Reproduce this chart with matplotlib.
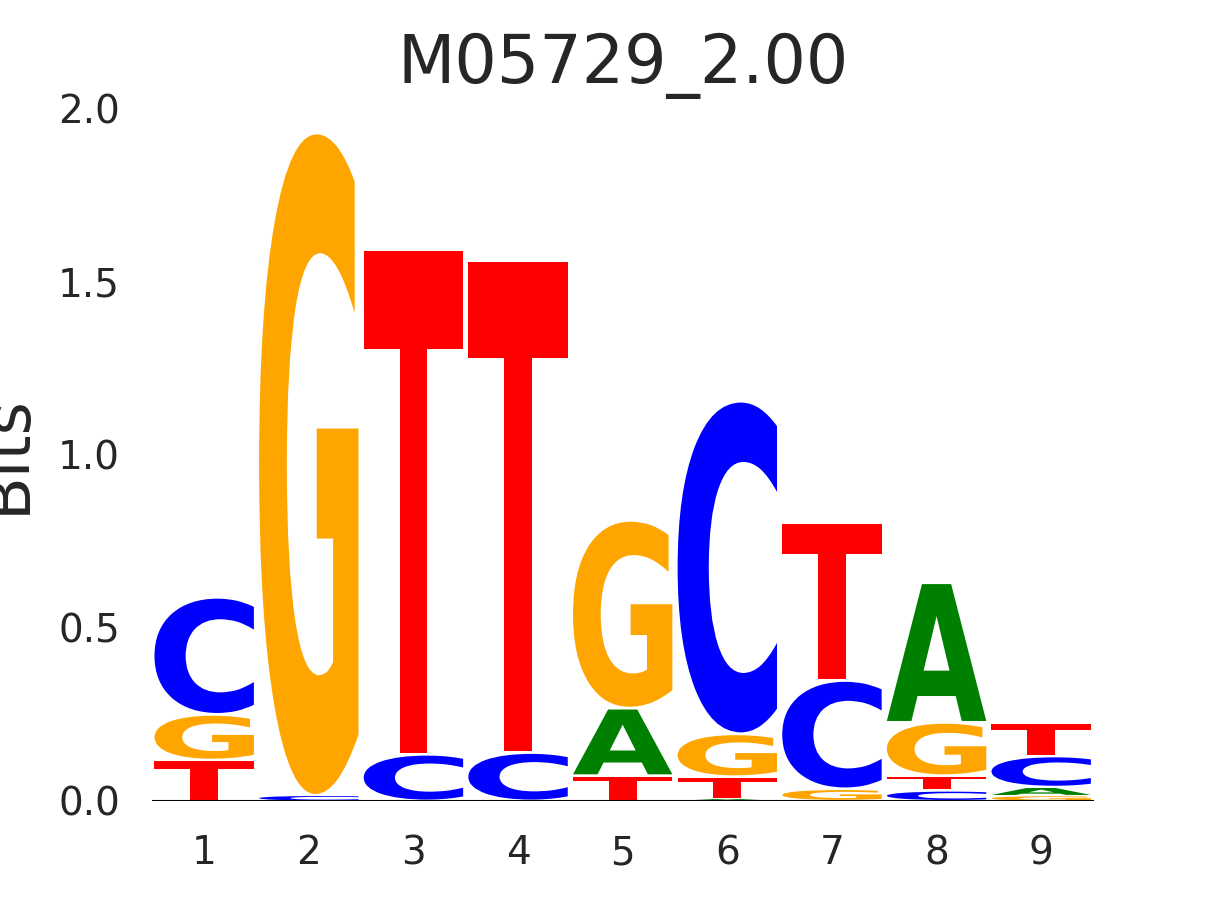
import matplotlib
matplotlib.use("Agg")
import matplotlib.pyplot as plt
from matplotlib.textpath import TextPath
from matplotlib.patches import PathPatch
from matplotlib.font_manager import FontProperties
from matplotlib.transforms import Affine2D

# Information content (bits) of each base at positions 1..9
positions = [1, 2, 3, 4, 5, 6, 7, 8, 9]
bits_A = [0.000, 0.000, 0.000, 0.000, 0.195, 0.006, 0.000, 0.403, 0.025]
bits_C = [0.338, 0.016, 0.135, 0.140, 0.000, 0.960, 0.313, 0.030, 0.090]
bits_G = [0.132, 1.912, 0.000, 0.000, 0.542, 0.124, 0.035, 0.154, 0.015]
bits_T = [0.118, 0.000, 1.456, 1.419, 0.073, 0.064, 0.455, 0.043, 0.095]
colors = {"A": "#008000", "C": "#0000ff", "G": "#ffa500", "T": "#ff0000"}
title = "M05729_2.00"
ylabel = "Bits"
yticks = [0.0, 0.5, 1.0, 1.5, 2.0]

TEXT = "#262626"
fp = FontProperties(family="DejaVu Sans", weight="bold")
glyph_cache = {}


def glyph(ax, ch, xc, bottom, h, w, color):
    if h <= 0:
        return
    if ch not in glyph_cache:
        glyph_cache[ch] = TextPath((0, 0), ch, size=1, prop=fp)
    tp = glyph_cache[ch]
    ext = tp.get_extents()
    pad = min(0.004, h * 0.1)
    hh = h - 2 * pad
    tr = (Affine2D().translate(-ext.x0, -ext.y0)
          .scale(w / ext.width, hh / ext.height)
          .translate(xc - w / 2, bottom + pad))
    ax.add_patch(PathPatch(tr.transform_path(tp), fc=color, ec="none", lw=0))


fig = plt.figure(figsize=(12.15, 9), dpi=100)
ax = fig.add_axes([0.125, 0.11, 0.775, 0.77])

data = {"A": bits_A, "C": bits_C, "G": bits_G, "T": bits_T}
for i, p in enumerate(positions):
    items = sorted(((data[b][i], b) for b in "ACGT"), key=lambda t: t[0])
    bottom = 0.0
    for h, b in items:
        if h > 0:
            glyph(ax, b, p, bottom, h, 0.95, colors[b])
            bottom += h

ax.axhline(0, color="black", lw=1.5, zorder=3)
ax.set_xlim(0.5, 9.5)
ax.set_ylim(0, 2.0)
ax.set_xticks(positions)
ax.set_xticklabels([str(p) for p in positions])
ax.set_yticks(yticks)
ax.set_yticklabels([f"{v:.1f}" for v in yticks])
for s in ax.spines.values():
    s.set_visible(False)
ax.tick_params(axis="both", length=0, labelsize=28, labelcolor=TEXT)
ax.tick_params(axis="y", pad=23)
ax.tick_params(axis="x", pad=24)
ax.set_title(title, fontsize=48, color=TEXT, pad=18)
ax.set_ylabel(ylabel, fontsize=46, color=TEXT)
ax.yaxis.set_label_coords(-0.121, 0.5)

fig.savefig("out.png", dpi=100)
